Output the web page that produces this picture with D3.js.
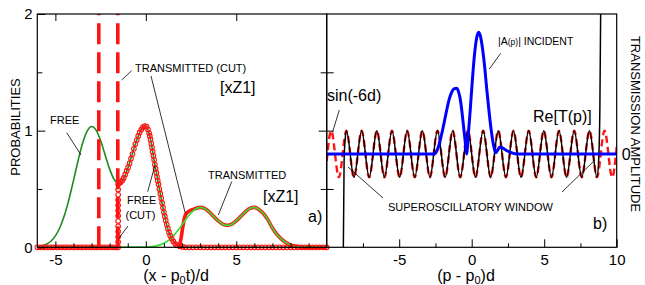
<!DOCTYPE html>
<html><head><meta charset="utf-8">
<script src="https://cdn.jsdelivr.net/npm/d3@7"></script>
<style>body{margin:0;background:#fff}svg{display:block}</style>
</head><body><svg id="c" width="645" height="285"></svg>
<script>
// ---------- DATA (left panel a) ----------
const freeX=[-6,-5.75,-5.5,-5.25,-5,-4.75,-4.5,-4.25,-4,-3.75,-3.5,-3.25,-3,-2.75,-2.5,-2.25,-2,-1.75,-1.5,-1.25,-1,-0.75,-0.5,-0.25,0,0.25,0.5,0.75,1,1.25,1.5,1.75,2,2.5,10];
const freeY=[0.005,0.012,0.026,0.052,0.098,0.17,0.274,0.411,0.572,0.74,0.889,0.993,1.035,1.005,0.915,0.792,0.67,0.581,0.55,0.585,0.675,0.80,0.92,1.01,1.04,0.93,0.71,0.50,0.30,0.14,0.055,0.018,0.005,0,0];
const transX=[-6,0,0.5,1,1.25,1.5,1.75,2,2.25,2.5,2.75,3,3.25,3.5,3.75,4,4.25,4.5,4.75,5,5.25,5.5,5.75,6,6.25,6.5,6.75,7,7.25,7.5,7.75,8,8.25,8.5,9,10];
const transY=[0,0.002,0.01,0.035,0.059,0.094,0.139,0.192,0.247,0.295,0.328,0.342,0.333,0.304,0.265,0.227,0.198,0.188,0.198,0.227,0.265,0.304,0.333,0.342,0.325,0.29,0.235,0.165,0.11,0.07,0.04,0.02,0.01,0.004,0.001,0];
const transCutX=[1.85,1.95,2.05,2.15,2.3,2.5,2.75,3,3.25,3.5,3.75,4,4.25,4.5,4.75,5,5.25,5.5,5.75,6,6.25,6.5,6.75,7,7.25,7.5,7.75,8,8.25,8.5,9,10];
const transCutY=[0,0.08,0.18,0.26,0.30,0.318,0.333,0.342,0.333,0.304,0.265,0.227,0.198,0.188,0.198,0.227,0.265,0.304,0.333,0.342,0.325,0.29,0.235,0.165,0.11,0.07,0.04,0.02,0.01,0.004,0.001,0];
// FREE (CUT) markers
const cutZeroLeftX=[-6,-5.85,-5.7,-5.55,-5.4,-5.25,-5.1,-4.95,-4.8,-4.65,-4.5,-4.35,-4.2,-4.05,-3.9,-3.75,-3.6,-3.45,-3.3,-3.15,-3,-2.85,-2.7,-2.55,-2.4,-2.25,-2.1,-1.95,-1.8,-1.65];
const cutJumpX=-1.53;
const cutJumpY=[0,0.045,0.09,0.135,0.18,0.225,0.27,0.315,0.36,0.405,0.45,0.495,0.54];
const cutCurveX=[-1.45,-1.38,-1.30,-1.22,-1.14,-1.06,-0.98,-0.90,-0.82,-0.74,-0.66,-0.58,-0.50,-0.42,-0.34,-0.25,-0.16,-0.06,0.04,0.12,0.18,0.22,0.26,0.30,0.34,0.38,0.42,0.46,0.50,0.54,0.58,0.62,0.66,0.70,0.75,0.80,0.85,0.90,0.95,1.00,1.05,1.10,1.16,1.22,1.28,1.35,1.43,1.52,1.62,1.74,1.88,2.04,2.2];
const cutCurveY=[0.552,0.56,0.575,0.595,0.625,0.655,0.685,0.72,0.76,0.80,0.845,0.885,0.92,0.955,0.985,1.01,1.03,1.04,1.035,1.01,0.98,0.955,0.925,0.89,0.855,0.82,0.785,0.75,0.71,0.675,0.64,0.605,0.57,0.54,0.50,0.46,0.42,0.38,0.34,0.30,0.265,0.23,0.195,0.16,0.13,0.10,0.075,0.05,0.03,0.018,0.008,0.003,0];
const cutZeroRightX=[2.4,2.6,2.8,3,3.2,3.4,3.6,3.8,4,4.2,4.4,4.6,4.8,5,5.2,5.4,5.6,5.8,6,6.2,6.4,6.6,6.8,7,7.2,7.4,7.6,7.8,8,8.2,8.4,8.6,8.8,9,9.2,9.4,9.6,9.8,10];
const cutLinesX=[-2.6,-1.55];
const xTicksL=[-5,0,5], xMinorL=[-4,-3,-2,-1,1,2,3,4,6,7,8,9];
const yTicksL=[0,1,2], yMinorL=[0.5,1.5];
// ---------- DATA (right panel b) ----------
const reTP=[-8.86,-8.80,-8.73,-8.64,-8.12,-7.59,-7.07,-6.54,-6.02,-5.50,-4.97,-4.45,-3.93,-3.40,-2.88,-2.36,-1.83,-1.31,-0.79,-0.26,0.26,0.79,1.31,1.83,2.36,2.88,3.40,3.93,4.45,4.97,5.50,6.02,6.54,7.07,7.59,8.12,8.64,8.76,8.84,8.90];
const reTV=[-4.6,-0.3,0.6,1,-1,1,-1,1,-1,1,-1,1,-1,1,-1,1,-1,1,-1,1,-1,1,-1,1,-1,1,-1,1,-1,1,-1,1,-1,1,-1,1,-1,-0.2,2,6.5];
const sinP=[-10,-9.69,-9.16,-8.64,-8.12,-7.59,-7.07,-6.54,-6.02,-5.50,-4.97,-4.45,-3.93,-3.40,-2.88,-2.36,-1.83,-1.31,-0.79,-0.26,0.26,0.79,1.31,1.83,2.36,2.88,3.40,3.93,4.45,4.97,5.50,6.02,6.54,7.07,7.59,8.12,8.64,9.16,9.69,10];
const sinV=[-0.3,1,-1,1,-1,1,-1,1,-1,1,-1,1,-1,1,-1,1,-1,1,-1,1,-1,1,-1,1,-1,1,-1,1,-1,1,-1,1,-1,1,-1,1,-1,1,-1,0.3];
const ampP=[-10,-2.6,-2.45,-2.3,-2.15,-2.0,-1.85,-1.7,-1.55,-1.4,-1.2,-1.03,-0.9,-0.75,-0.6,-0.45,-0.35,-0.25,-0.1,0.05,0.2,0.35,0.48,0.6,0.75,0.9,1.05,1.2,1.35,1.5,1.65,1.8,1.95,2.1,2.4,2.8,3.1,10];
const ampV=[0,0,0.08,0.3,0.65,1.05,1.5,1.95,2.35,2.62,2.8,2.82,2.65,2.2,1.4,0.55,0,0.7,1.9,3.2,4.3,5.0,5.22,5.05,4.5,3.7,2.7,1.8,1.0,0.4,0.05,0.18,0.3,0.27,0.15,0.04,0,0];
const xTicksR=[-5,0,5,10], xMinorR=[-7.5,-2.5,2.5,7.5];
const yTicksR=[0];

// ---------- LAYOUT ----------
const font="'Liberation Sans', Arial, Helvetica, sans-serif";
const RED="#ff1414", DKG="#1f8a1f", LTG="#33e033", BLUE="#0000ff";
const svg=d3.select("#c");
const L0=37.3, M=326.7, R1=616.7, T=14, B=247.3;
const xL=d3.scaleLinear().domain([-6,10]).range([L0,M]);
const yL=d3.scaleLinear().domain([0,2]).range([B,T]);
const xR=d3.scaleLinear().domain([-10,10]).range([M,R1]);
const yR=d3.scaleLinear().domain([-4,6]).range([B,T]);

const defs=svg.append("defs");
defs.append("clipPath").attr("id","clipR").append("rect").attr("x",M).attr("y",T).attr("width",R1-M).attr("height",B-T);

const lineL=(xs,ys)=>d3.line().x(i=>xL(xs[i])).y(i=>yL(ys[i])).curve(d3.curveMonotoneX)(d3.range(xs.length));
const lineR=(xs,ys)=>d3.line().x(i=>xR(xs[i])).y(i=>yR(ys[i])).curve(d3.curveMonotoneX)(d3.range(xs.length));

// ---- left panel curves ----
const gl=svg.append("g");
gl.append("path").attr("d",lineL(freeX,freeY)).attr("fill","none").attr("stroke",DKG).attr("stroke-width",1.6);
gl.append("path").attr("d",lineL(transCutX,transCutY)).attr("fill","none").attr("stroke",RED).attr("stroke-width",3.6);
gl.append("path").attr("d",lineL(transX,transY)).attr("fill","none").attr("stroke",LTG).attr("stroke-width",1.6);
gl.selectAll("line.cut").data(cutLinesX).join("line").attr("class","cut")
  .attr("x1",d=>xL(d)).attr("x2",d=>xL(d)).attr("y1",yL(0)).attr("y2",yL(2))
  .attr("stroke",RED).attr("stroke-width",3.6).attr("stroke-dasharray","21,8");
const marks=[].concat(
  cutZeroLeftX.map(x=>[x,0]),
  cutJumpY.map(y=>[cutJumpX,y]),
  d3.zip(cutCurveX,cutCurveY),
  cutZeroRightX.map(x=>[x,0]));
gl.selectAll("circle").data(marks).join("circle")
  .attr("cx",d=>xL(d[0])).attr("cy",d=>yL(d[1])).attr("r",2.3)
  .attr("fill","none").attr("stroke",RED).attr("stroke-width",1.1);

// ---- right panel curves ----
const gr=svg.append("g").attr("clip-path","url(#clipR)");
gr.append("path").attr("d",lineR(sinP,sinV)).attr("fill","none").attr("stroke",RED).attr("stroke-width",2.4).attr("stroke-dasharray","7,4");
gr.append("path").attr("d",lineR(reTP,reTV)).attr("fill","none").attr("stroke","#000").attr("stroke-width",1.5);
gr.append("path").attr("d",lineR(ampP,ampV)).attr("fill","none").attr("stroke",BLUE).attr("stroke-width",3);

// ---- frames & axes ----
svg.append("rect").attr("x",L0).attr("y",T).attr("width",M-L0).attr("height",B-T).attr("fill","none").attr("stroke","#000").attr("stroke-width",1.2);
svg.append("rect").attr("x",M).attr("y",T).attr("width",R1-M).attr("height",B-T).attr("fill","none").attr("stroke","#000").attr("stroke-width",1.2);
const fmt=d=>d<0?"-"+Math.abs(d):String(d);
function ax(gen,tx,ty,vals,size,labels,pad,fs){
  const g=svg.append("g").attr("transform",`translate(${tx},${ty})`)
    .call(gen.tickValues(vals).tickSizeInner(size).tickSizeOuter(0).tickPadding(pad||0).tickFormat(labels?fmt:()=>""));
  g.select(".domain").remove();
  g.selectAll("line").attr("stroke","#000").attr("stroke-width",1);
  g.selectAll("text").attr("font-family",font).attr("font-size",fs||15).attr("fill","#000");
  return g;
}
ax(d3.axisBottom(xL),0,B,xTicksL,-6,true,7);
ax(d3.axisBottom(xL),0,B,xMinorL,-4,false);
ax(d3.axisTop(xL),0,T,xTicksL,-7,false);
ax(d3.axisLeft(yL),L0,0,yTicksL,-8,true,4.8);
ax(d3.axisLeft(yL),L0,0,yMinorL,-5,false);
ax(d3.axisRight(yL),M,0,[1],-8,false);
ax(d3.axisRight(yL),M,0,yMinorL,-6,false);
ax(d3.axisRight(yL),M,0,[0.5,1,1.5],7,false);
ax(d3.axisBottom(xR),0,B,xTicksR,-8,true,7);
ax(d3.axisBottom(xR),0,B,xMinorR,-4,false);
ax(d3.axisRight(yR),R1,0,yTicksR,0,true,5,16);

// ---- titles ----
function txt(x,y,s,fs,anchor){return svg.append("text").attr("x",x).attr("y",y).attr("font-family",font).attr("font-size",fs).attr("text-anchor",anchor||"start").attr("fill","#000").text(s);}
const tx1=svg.append("text").attr("x",176).attr("y",281).attr("font-family",font).attr("font-size",16).attr("text-anchor","middle");
tx1.append("tspan").text("(x - p");
tx1.append("tspan").attr("font-size",11).attr("dy",3).text("0");
tx1.append("tspan").attr("dy",-3).text("t)/d");
const tx2=svg.append("text").attr("x",466).attr("y",281).attr("font-family",font).attr("font-size",16).attr("text-anchor","middle");
tx2.append("tspan").text("(p - p");
tx2.append("tspan").attr("font-size",11).attr("dy",3).text("0");
tx2.append("tspan").attr("dy",-3).text(")d");
svg.append("text").attr("transform","translate(19.5,127) rotate(-90)").attr("text-anchor","middle")
  .attr("font-family",font).attr("font-size",13).text("PROBABILITIES");
svg.append("text").attr("transform","translate(630.5,124) rotate(90)").attr("text-anchor","middle")
  .attr("font-family",font).attr("font-size",13).text("TRANSMISSION AMPLITUDE");

// ---- annotations ----
txt(135,71.5,"TRANSMITTED (CUT)",11);
txt(220,93,"[xZ1]",16);
txt(50,124,"FREE",11);
txt(127,204,"FREE",11);
txt(125.5,219,"(CUT)",11);
txt(208,179,"TRANSMITTED",11);
txt(263,202,"[xZ1]",16);
txt(308,222,"a)",16);
const inc=svg.append("text").attr("x",498).attr("y",45).attr("font-family",font).attr("font-size",10.5);
inc.append("tspan").text("|A");
inc.append("tspan").attr("font-size",8.5).text("(p)");
inc.append("tspan").text("| INCIDENT");
txt(327,101,"sin(-6d)",16);
txt(533,122,"Re[T(p)]",16);
txt(388,211,"SUPEROSCILLATORY WINDOW",11);
txt(593,229,"b)",16);
const ptr=[[121.7,80,131.7,70.7],[151,76,185.3,213.3],[66.7,132.7,81,155],[147.7,191.7,155,165],[128,226,119,238],
  [231.7,181.7,218.3,215],[500.7,53.3,489.3,69],[339.3,110,332.7,131.7],[383,198,348,167],[562,192,595,160]];
svg.selectAll("line.ptr").data(ptr).join("line").attr("class","ptr")
  .attr("x1",d=>d[0]).attr("y1",d=>d[1]).attr("x2",d=>d[2]).attr("y2",d=>d[3])
  .attr("stroke","#000").attr("stroke-width",0.8);
</script></body></html>
